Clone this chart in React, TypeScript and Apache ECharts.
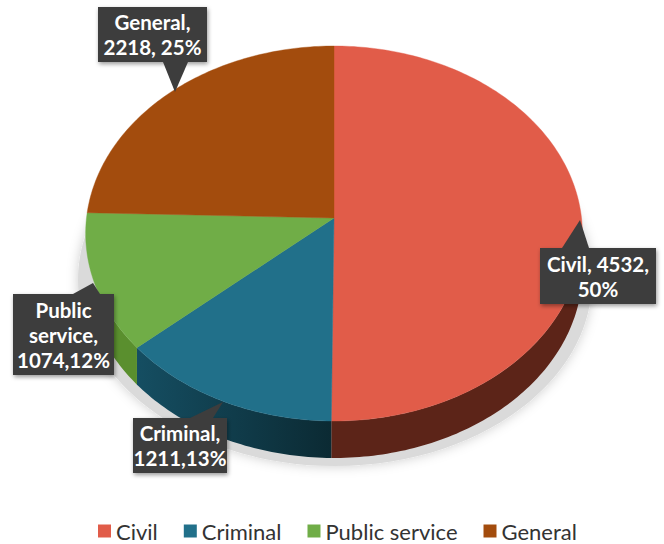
import React, { useEffect, useRef } from "react";
import * as echarts from "echarts";

const categories = ["Civil", "Criminal", "Public service", "General"];
const values = [4532, 1211, 1074, 2218];
const calloutLines = ["Civil, {v},\n{p}%", "Criminal,\n{v},{p}%", "Public\nservice,\n{v},{p}%", "General,\n{v}, {p}%"];
const colors = ["#E15C49", "#21708A", "#70AD47", "#A34C0D"];
const sideColors: any[] = ["#5C2418", ["#154E62", "#0B2A33"], "#5A8F2E", "#6F340A"];

// Layout of the tilted disc
const HUB_X = 334, HUB_Y = 218, T = 247.5, S = 186.2, C = -0.0827, DEPTH = 37;
const SIDE_FROM = 100, SIDE_TO = 245;
const FONT = "Lato, 'Noto Sans', sans-serif";

// Callout boxes: [x, y, w, h], pointer [baseA, baseB, tip]
const callouts = [
  { box: [540, 248, 116, 56], ptr: [[562, 248], [589, 248], [580, 220]] },
  { box: [133, 418, 94, 55], ptr: [[190, 418], [213, 418], [223, 402]] },
  { box: [13, 294, 101, 81], ptr: [[73, 294], [100, 294], [93, 283]] },
  { box: [98, 7, 109, 55], ptr: [[163, 62], [188, 62], [175, 92]] },
];

const total = values.reduce((a, b) => a + b, 0);

function project(deg: number, drop = 0): number[] {
  const r = (deg * Math.PI) / 180;
  const u = Math.sin(r), v = -Math.cos(r), w = 1 + C * v;
  return [HUB_X + (T * u) / w, HUB_Y + (S * v) / w + drop];
}

function arc(a: number, b: number, drop = 0): number[][] {
  const pts: number[][] = [];
  const n = Math.max(2, Math.ceil(Math.abs(b - a)));
  for (let i = 0; i <= n; i++) pts.push(project(a + ((b - a) * i) / n, drop));
  return pts;
}

function makeItem(idx: number) {
  return (_params: any, api: any) => {
    const startDeg = (api.value(0) / total) * 360;
    const endDeg = (api.value(1) / total) * 360;
    const children: any[] = [];

    const sa = Math.max(startDeg, SIDE_FROM), sb = Math.min(endDeg, SIDE_TO);
    if (sb > sa) {
      const sc = sideColors[idx];
      const fill = Array.isArray(sc)
        ? new echarts.graphic.LinearGradient(0, 0, 1, 0, [
            { offset: 0, color: sc[0] },
            { offset: 1, color: sc[1] },
          ])
        : sc;
      children.push({
        type: "polygon",
        z2: 1,
        shape: { points: [...arc(sa, sb), ...arc(sb, sa, DEPTH)] },
        style: { fill },
      });
    }
    children.push({
      type: "polygon",
      z2: 2,
      shape: { points: [[HUB_X, HUB_Y], ...arc(startDeg, endDeg)] },
      style: { fill: colors[idx], stroke: colors[idx], lineWidth: 0.4 },
    });

    const c = callouts[idx];
    const pct = Math.round((api.value(2) / total) * 100);
    const text = calloutLines[idx].replace("{v}", String(api.value(2))).replace("{p}", String(pct));
    children.push({
      type: "rect",
      z2: 10,
      shape: { x: c.box[0], y: c.box[1], width: c.box[2], height: c.box[3] },
      style: { fill: "#3D3D3D", shadowColor: "rgba(0,0,0,0.4)", shadowBlur: 4, shadowOffsetX: 1, shadowOffsetY: 2 },
    });
    children.push({ type: "polygon", z2: 11, shape: { points: c.ptr }, style: { fill: "#3D3D3D" } });
    children.push({
      type: "text",
      z2: 12,
      style: {
        x: c.box[0] + c.box[2] / 2,
        y: c.box[1] + c.box[3] / 2,
        text,
        fill: "#FFFFFF",
        font: `bold 20.5px ${FONT}`,
        lineHeight: 25,
        align: "center",
        verticalAlign: "middle",
      },
    });
    return { type: "group", children };
  };
}

export default function App() {
  const ref = useRef<HTMLDivElement>(null);
  useEffect(() => {
    const chart = echarts.init(ref.current!, null, { renderer: "svg" });
    let cum = 0;
    const series = categories.map((name, i) => {
      const start = cum;
      cum += values[i];
      return {
        type: "custom",
        name,
        coordinateSystem: "none",
        silent: true,
        itemStyle: { color: colors[i] },
        data: [[start, cum, values[i]]],
        renderItem: makeItem(i),
      };
    });
    chart.setOption({
      animation: false,
      backgroundColor: "#FFFFFF",
      legend: {
        data: categories,
        left: 98,
        top: 520,
        padding: 0,
        icon: "rect",
        itemWidth: 13,
        itemHeight: 13,
        itemGap: 26,
        selectedMode: false,
        textStyle: { fontFamily: FONT, fontSize: 22, lineHeight: 20, color: "#333333" },
      },
      graphic: [
        {
          type: "ellipse",
          z: -1,
          silent: true,
          shape: { cx: 335, cy: 280, rx: 257, ry: 186 },
          style: { fill: "#DADADA", shadowColor: "rgba(0,0,0,0.2)", shadowBlur: 12 },
        },
      ],
      series,
    });
    return () => chart.dispose();
  }, []);
  return <div ref={ref} style={{ position: "fixed", left: 0, top: 0, width: 664, height: 544 }} />;
}
